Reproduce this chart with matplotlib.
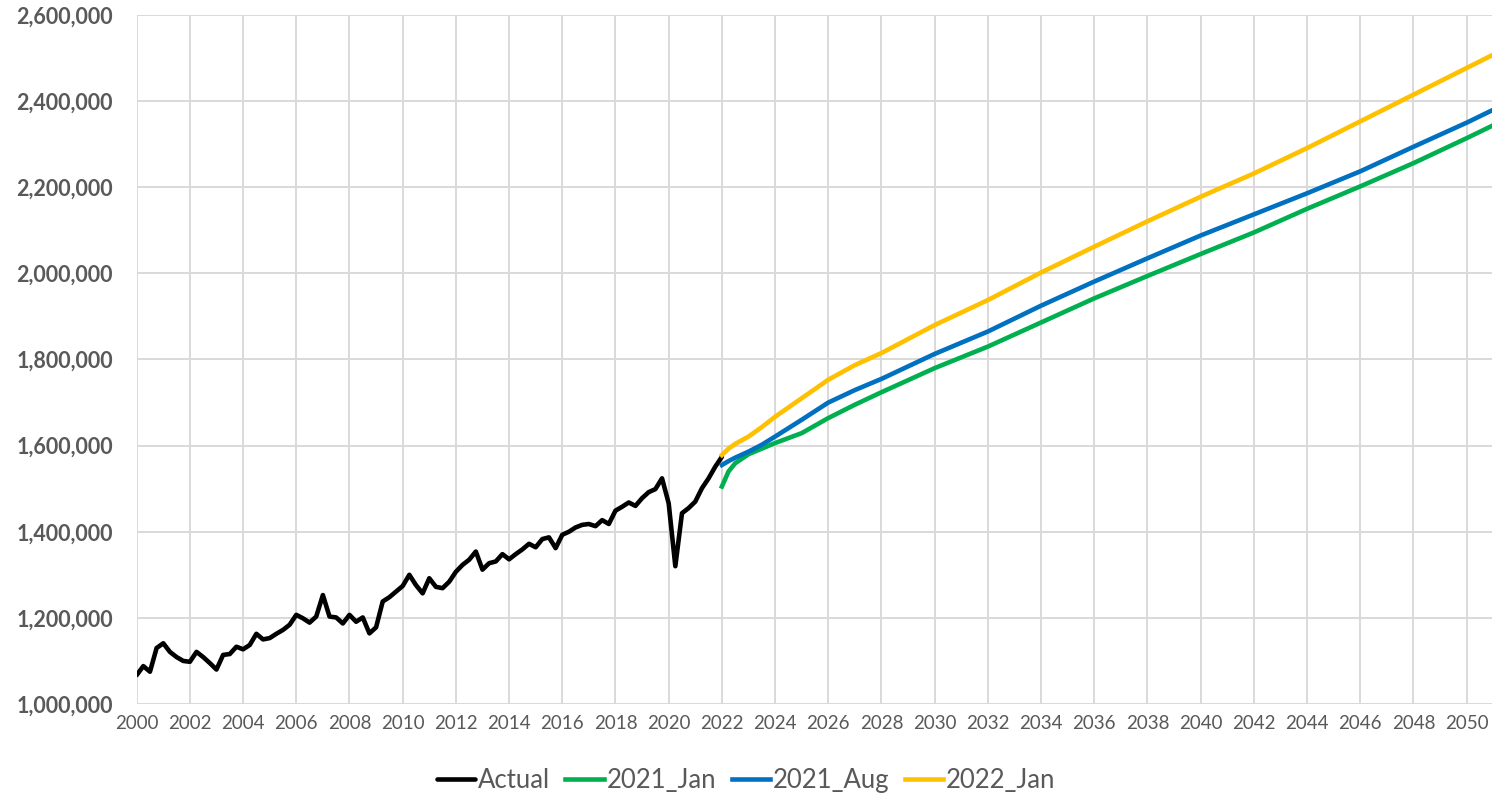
import matplotlib.pyplot as plt
from matplotlib.ticker import FuncFormatter

# actual, quarterly 2000Q1 .. 2022Q1 (thousands)
actual_x = [2000 + i / 4 for i in range(89)]
actual = [1067, 1088, 1075, 1130, 1141, 1121, 1109, 1100, 1098, 1121, 1109, 1095,
          1080, 1114, 1116, 1133, 1127, 1137, 1163, 1150, 1153, 1163, 1172, 1184,
          1207, 1199, 1189, 1203, 1253, 1203, 1201, 1187, 1207, 1191, 1201, 1164,
          1178, 1238, 1248, 1261, 1274, 1300, 1276, 1257, 1292, 1272, 1269, 1284,
          1307, 1323, 1335, 1354, 1312, 1327, 1331, 1348, 1336, 1348, 1359, 1372,
          1364, 1383, 1387, 1362, 1393, 1400, 1410, 1416, 1418, 1413, 1427, 1418,
          1449, 1458, 1468, 1460, 1478, 1492, 1499, 1524, 1466, 1320, 1443, 1455,
          1470, 1501, 1524, 1551, 1574]

fc_x = [2022, 2022.25, 2022.5, 2023, 2023.5, 2024, 2025, 2026, 2027, 2028, 2030,
        2032, 2034, 2036, 2038, 2040, 2042, 2044, 2046, 2048, 2050, 2051]
jan21 = [1505, 1540, 1559, 1580, 1593, 1606, 1629, 1664, 1695, 1724, 1780,
         1830, 1886, 1942, 1994, 2045, 2095, 2150, 2202, 2256, 2314, 2344]
aug21 = [1555, 1564, 1572, 1586, 1602, 1621, 1660, 1700, 1729, 1755, 1813,
         1865, 1925, 1981, 2035, 2088, 2137, 2186, 2237, 2294, 2350, 2380]
jan22 = [1578, 1593, 1604, 1621, 1643, 1667, 1710, 1753, 1787, 1815, 1880,
         1938, 2002, 2062, 2121, 2178, 2232, 2291, 2353, 2415, 2477, 2508]

plt.rcParams['font.family'] = ['Lato', 'DejaVu Sans']

fig = plt.figure(figsize=(14.92, 7.98), dpi=100)
ax = fig.add_axes([0.0916, 0.1178, 0.9082, 0.8634])

k = 1000
ax.plot(actual_x, [v * k for v in actual], color='black', lw=3.3, label='Actual', solid_capstyle='round')
ax.plot(fc_x, [v * k for v in jan21], color='#00B050', lw=3.3, label='2021_Jan')
ax.plot(fc_x, [v * k for v in aug21], color='#0070C0', lw=3.3, label='2021_Aug')
ax.plot(fc_x, [v * k for v in jan22], color='#FFC000', lw=3.3, label='2022_Jan')

ax.set_xlim(2000, 2050.94)
ax.set_ylim(1000000, 2600000)
ax.set_xticks(range(2000, 2051, 2))
ax.set_yticks(range(1000000, 2600001, 200000))
ax.yaxis.set_major_formatter(FuncFormatter(lambda v, p: f'{int(v):,}'))

ax.grid(True, color='#d9d9d9', lw=1.4)
ax.set_axisbelow(True)
for s in ax.spines.values():
    s.set_visible(False)
ax.tick_params(length=0)
ax.tick_params(axis='y', labelsize=15.5, labelcolor='#595959', pad=17)
for t in ax.get_yticklabels():
    t.set_fontweight('bold')
ax.tick_params(axis='x', labelsize=13.5, labelcolor='#595959', pad=8)

fig.legend(loc='center', bbox_to_anchor=(0.5, 0.022), ncol=4, frameon=False,
           fontsize=18.5, handlelength=1.5, handletextpad=0.1, columnspacing=0.6,
           labelcolor='#595959')

fig.savefig('out.png', dpi=100)
